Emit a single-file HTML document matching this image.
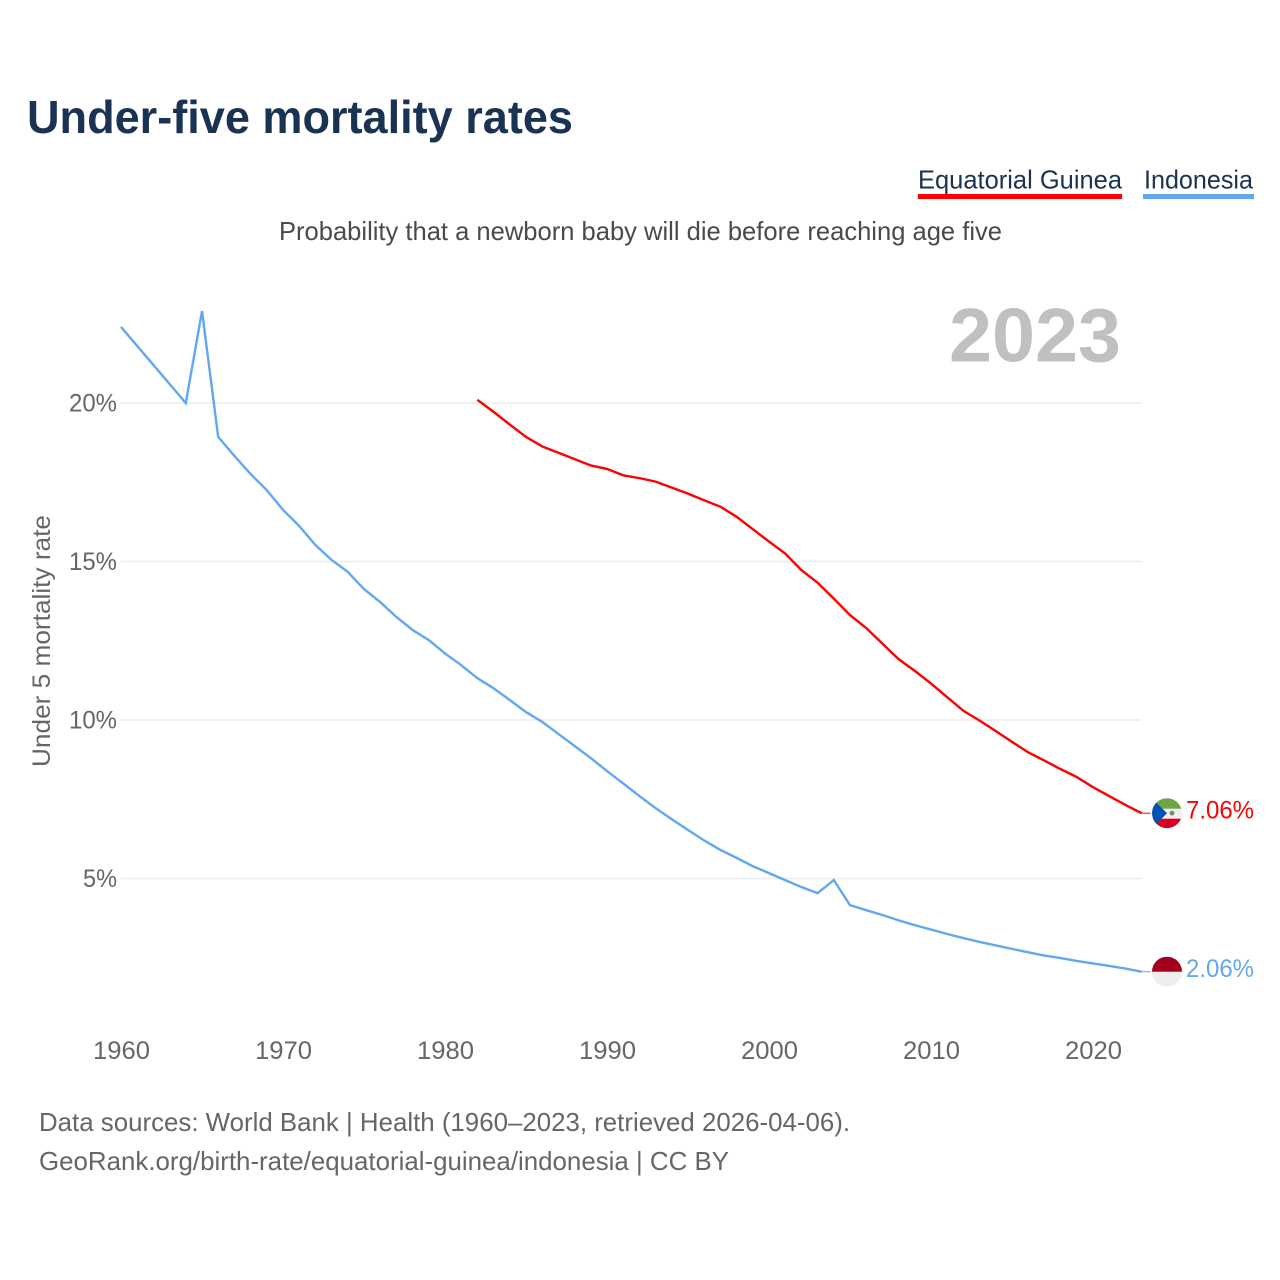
<!DOCTYPE html>
<html lang="en">
<head>
<meta charset="utf-8">
<title>Under-five mortality rates</title>
<style>
  html, body { margin: 0; padding: 0; background: #fff; }
  svg { display: block; font-family: "Liberation Sans", sans-serif; }
</style>
</head>
<body>
<svg id="chart" xmlns="http://www.w3.org/2000/svg" width="1280" height="1280" viewBox="0 0 1280 1280">
  <defs>
    <clipPath id="flag-clip"><circle cx="0" cy="0" r="15"></circle></clipPath>
  </defs>
  <rect x="0" y="0" width="1280" height="1280" fill="#fff"></rect>

  <text x="27" y="133" font-size="46" font-weight="700" fill="#1a3352" textLength="546" lengthAdjust="spacingAndGlyphs">Under-five mortality rates</text>

  <text x="918" y="188.5" font-size="26" fill="#1a3352" textLength="204" lengthAdjust="spacingAndGlyphs">Equatorial Guinea</text>
  <rect x="918" y="194" width="204" height="5" fill="#ff0000"></rect>
  <text x="1144" y="188.5" font-size="26" fill="#1a3352" textLength="109" lengthAdjust="spacingAndGlyphs">Indonesia</text>
  <rect x="1143" y="194" width="111" height="5" fill="#62a8ee"></rect>

  <text x="279" y="240" font-size="26" fill="#4a4a4a" textLength="723" lengthAdjust="spacingAndGlyphs">Probability that a newborn baby will die before reaching age five</text>

  <g id="grid-layer"></g>

  <text x="949" y="361.5" font-size="76" font-weight="700" fill="#c0c0c0" textLength="172" lengthAdjust="spacingAndGlyphs">2023</text>

  <g id="y-tick-layer"></g>
  <g id="x-tick-layer"></g>

  <text transform="translate(50 767) rotate(-90)" x="0" y="0" font-size="25" fill="#666" textLength="252" lengthAdjust="spacingAndGlyphs">Under 5 mortality rate</text>

  <path id="line-indonesia" fill="none" stroke="#62a8ee" stroke-width="2.4" stroke-linejoin="miter"></path>
  <path id="line-equatorial-guinea" fill="none" stroke="#ff0000" stroke-width="2.4" stroke-linejoin="miter"></path>
  <line id="connector-indonesia" stroke="#62a8ee" stroke-width="1"></line>
  <line id="connector-equatorial-guinea" stroke="#ff0000" stroke-width="1"></line>

  <g id="flag-equatorial-guinea" clip-path="url(#flag-clip)">
    <rect x="-15" y="-15" width="30" height="30" fill="#f0f0f0"></rect>
    <rect x="-15" y="-15" width="30" height="10.5" fill="#6da544"></rect>
    <rect x="-15" y="5.5" width="30" height="10" fill="#d80027"></rect>
    <polygon points="-15,-15 0,0 -15,15" fill="#0052b4"></polygon>
    <circle cx="5" cy="0" r="2.4" fill="#6f8f60"></circle>
  </g>
  <g id="flag-indonesia" clip-path="url(#flag-clip)">
    <rect x="-15" y="-15" width="30" height="30" fill="#eeeeee"></rect>
    <rect x="-15" y="-15" width="30" height="15" fill="#a2001d"></rect>
  </g>

  <text id="value-equatorial-guinea" x="1186" font-size="25" fill="#ff0000" textLength="68" lengthAdjust="spacingAndGlyphs"></text>
  <text id="value-indonesia" x="1186" font-size="25" fill="#62a8ee" textLength="68" lengthAdjust="spacingAndGlyphs"></text>

  <text x="39" y="1131" font-size="26" fill="#666" textLength="811" lengthAdjust="spacingAndGlyphs">Data sources: World Bank | Health (1960–2023, retrieved 2026-04-06).</text>
  <text x="39" y="1170" font-size="26" fill="#666" textLength="690" lengthAdjust="spacingAndGlyphs">GeoRank.org/birth-rate/equatorial-guinea/indonesia | CC BY</text>
</svg>

<script>
const yearStart = 1960;
const yearEnd = 2023;
const xTickYears = [1960, 1970, 1980, 1990, 2000, 2010, 2020];
const yTickValues = [5, 10, 15, 20];
const indonesiaYears = [1960, 1964, 1965, 1966, 1967, 1968, 1969, 1970, 1971, 1972, 1973, 1974, 1975, 1976, 1977, 1978, 1979, 1980, 1981, 1982, 1983, 1984, 1985, 1986, 1987, 1988, 1989, 1990, 1991, 1992, 1993, 1994, 1995, 1996, 1997, 1998, 1999, 2000, 2001, 2002, 2003, 2004, 2005, 2006, 2007, 2008, 2009, 2010, 2011, 2012, 2013, 2014, 2015, 2016, 2017, 2018, 2019, 2020, 2021, 2022, 2023];
const indonesiaValues = [22.4, 20.0, 22.9, 18.93, 18.33, 17.76, 17.25, 16.63, 16.12, 15.52, 15.05, 14.67, 14.13, 13.72, 13.25, 12.84, 12.52, 12.1, 11.73, 11.32, 11.0, 10.63, 10.25, 9.94, 9.56, 9.18, 8.8, 8.39, 8.0, 7.6, 7.22, 6.87, 6.53, 6.2, 5.9, 5.65, 5.39, 5.17, 4.95, 4.73, 4.54, 4.95, 4.16, 4.0, 3.85, 3.68, 3.53, 3.39, 3.25, 3.12, 3.0, 2.89, 2.78, 2.67, 2.57, 2.49, 2.4, 2.32, 2.24, 2.16, 2.06];
const guineaYears = [1982, 1983, 1984, 1985, 1986, 1987, 1988, 1989, 1990, 1991, 1992, 1993, 1994, 1995, 1996, 1997, 1998, 1999, 2000, 2001, 2002, 2003, 2004, 2005, 2006, 2007, 2008, 2009, 2010, 2011, 2012, 2013, 2014, 2015, 2016, 2017, 2018, 2019, 2020, 2021, 2022, 2023];
const guineaValues = [20.1, 19.72, 19.32, 18.93, 18.63, 18.43, 18.23, 18.03, 17.92, 17.72, 17.63, 17.52, 17.33, 17.14, 16.93, 16.73, 16.41, 16.02, 15.63, 15.25, 14.73, 14.33, 13.83, 13.31, 12.9, 12.41, 11.92, 11.55, 11.15, 10.72, 10.29, 9.98, 9.65, 9.31, 8.98, 8.72, 8.45, 8.2, 7.88, 7.6, 7.32, 7.06];
const valueLabelGuinea = "7.06%";
const valueLabelIndonesia = "2.06%";

const svgNS = "http://www.w3.org/2000/svg";
const plotLeft = 121;
const plotRight = 1141.6;
const y5Pixel = 878.5;
const pixelsPerUnit = 31.7;

function xScale(year) {
  return plotLeft + (year - yearStart) * (plotRight - plotLeft) / (yearEnd - yearStart);
}
function yScale(value) {
  return y5Pixel - (value - 5) * pixelsPerUnit;
}
function linePath(years, values) {
  return values.map(function (v, i) {
    return (i ? "L" : "M") + xScale(years[i]).toFixed(2) + " " + yScale(v).toFixed(2);
  }).join(" ");
}

const gridLayer = document.getElementById("grid-layer");
const yTickLayer = document.getElementById("y-tick-layer");
const xTickLayer = document.getElementById("x-tick-layer");

yTickValues.forEach(function (v) {
  const grid = document.createElementNS(svgNS, "line");
  
  
  grid.setAttribute("x1", plotLeft);
  grid.setAttribute("x2", plotRight);
  grid.setAttribute("y1", yScale(v));
  grid.setAttribute("y2", yScale(v));
  grid.setAttribute("stroke", "#ececec");
  grid.setAttribute("stroke-width", "1.6");
  gridLayer.appendChild(grid);

  const label = document.createElementNS(svgNS, "text");
  
  
  const text = v + "%";
  const labelWidth = text.length === 3 ? 48 : 34;
  label.textContent = text;
  label.setAttribute("x", 117 - labelWidth);
  label.setAttribute("y", yScale(v) + 8.5);
  label.setAttribute("font-size", "25");
  label.setAttribute("fill", "#666");
  label.setAttribute("textLength", labelWidth);
  label.setAttribute("lengthAdjust", "spacingAndGlyphs");
  yTickLayer.appendChild(label);
});

xTickYears.forEach(function (year) {
  const label = document.createElementNS(svgNS, "text");
  
  
  label.textContent = year;
  label.setAttribute("x", xScale(year) - 28);
  label.setAttribute("y", 1059);
  label.setAttribute("font-size", "25");
  label.setAttribute("fill", "#666");
  label.setAttribute("textLength", 57);
  label.setAttribute("lengthAdjust", "spacingAndGlyphs");
  xTickLayer.appendChild(label);
});

document.getElementById("line-indonesia").setAttribute("d", linePath(indonesiaYears, indonesiaValues));
document.getElementById("line-equatorial-guinea").setAttribute("d", linePath(guineaYears, guineaValues));

function placeEnd(key, years, values, labelText) {
  const lastY = yScale(values[values.length - 1]);
  const lastX = xScale(years[years.length - 1]);
  const connector = document.getElementById("connector-" + key);
  connector.setAttribute("x1", lastX);
  connector.setAttribute("x2", lastX + 9);
  connector.setAttribute("y1", lastY);
  connector.setAttribute("y2", lastY);
  document.getElementById("flag-" + key).setAttribute("transform", "translate(1167 " + lastY + ")");
  const value = document.getElementById("value-" + key);
  value.textContent = labelText;
  value.setAttribute("y", lastY + 5.5);
}
placeEnd("equatorial-guinea", guineaYears, guineaValues, valueLabelGuinea);
placeEnd("indonesia", indonesiaYears, indonesiaValues, valueLabelIndonesia);
</script>
</body>
</html>
